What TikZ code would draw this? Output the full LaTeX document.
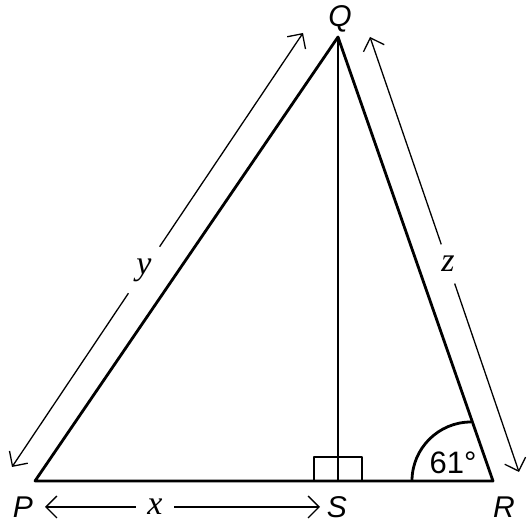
\documentclass[tikz,border=0pt]{standalone}
\usepackage{fontspec}
\setmainfont{Liberation Sans}
\newfontfamily\timesfont{Liberation Serif}
\usetikzlibrary{arrows.meta,calc}
\tikzset{
  every picture/.style={
    >={Straight Barb[length=5.5pt, width=11pt]}
  },
  side/.style={
    line width=1.4pt, line join=round
  },
  measure/.style={
    line width=0.65pt
  },
  vertex/.style={
    font=\fontsize{15}{15}\selectfont\itshape, inner sep=0pt
  },
  var/.style={
    font=\fontsize{17}{17}\selectfont\timesfont\itshape, inner sep=5.7pt
  }
}
\begin{document}
\begin{tikzpicture}[x=0.5pt, y=0.5pt]
  \useasboundingbox (0,0) rectangle (531,522);
  \coordinate (P) at (35,41);
  \coordinate (Q) at (338,485);
  \coordinate (R) at (493,41);
  \coordinate (S) at (338,41);
  \draw [side] (P) -- (Q) -- (R) -- cycle;
  \draw [side] (Q) -- (S);
  \draw [side] ($(S)+(-24,0)$) rectangle ($(S)+(24,24)$);
  \draw [side] ($(R)+(-81,0)$) arc [start angle=180, end angle=90, radius=59];
  \node [vertex] (p) at (23,15) {P};
  \node [vertex] (q) at (340,503) {Q};
  \node [vertex] (r) at (504,15) {R};
  \node [vertex] (s) at (337,15) {S};
  \node [vertex, font=\fontsize{15.5}{15.5}\selectfont] (ang) at (453,59) {61°};
  % lengths
  \coordinate (ybot) at (12,55);
  \coordinate (ytop) at (303,489);
  \coordinate (ztop) at (370,485);
  \coordinate (zbot) at (519,50);
  \coordinate (xl) at (45,15);
  \coordinate (xr) at (320,15);
  \node [var] (ylab) at (144,252) {y};
  \node [var] (zlab) at (448,258) {z};
  \node [var] (xlab) at (155,15) {x};
  \draw [measure,->] (ylab) -- (ybot);
  \draw [measure,->] (ylab) -- (ytop);
  \draw [measure,->] (zlab) -- (ztop);
  \draw [measure,->] (zlab) -- (zbot);
  \draw [measure,->] (xlab) -- (xl);
  \draw [measure,->] (xlab) -- (xr);
\end{tikzpicture}
\end{document}
